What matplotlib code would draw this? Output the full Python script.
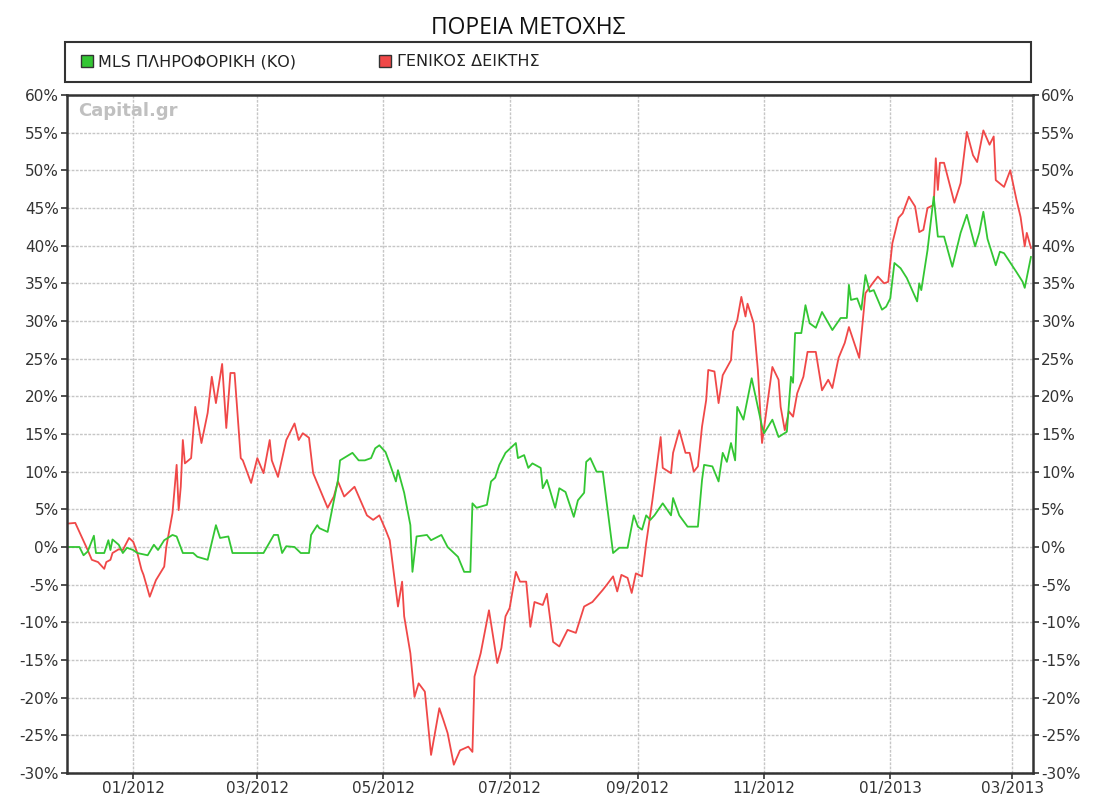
import matplotlib
matplotlib.use("Agg")
import matplotlib.pyplot as plt
import matplotlib.dates as mdates
from matplotlib.lines import Line2D
from matplotlib.patches import Rectangle
import numpy as np
import pandas as pd

# Ημέρες από 01/01/2012 και ποσοστιαία μεταβολή (%)
titlos = "ΠΟΡΕΙΑ ΜΕΤΟΧΗΣ"
onoma_metoxis = "MLS ΠΛΗΡΟΦΟΡΙΚΗ (ΚΟ)"
onoma_deikti = "ΓΕΝΙΚΟΣ ΔΕΙΚΤΗΣ"

meres_metoxi = [
    -32, -26, -24, -22, -19, -18, -14, -12, -11, -10, -7, -5, -3, 0, 2, 7, 10, 12,
    15, 19, 21, 24, 29, 31, 36, 40, 42, 46, 48, 62, 63, 68, 70, 72, 74, 78, 81, 85,
    86, 89, 90, 94, 99, 100, 103, 106, 109, 112, 115, 117, 119, 122, 124, 127, 128,
    131, 134, 135, 137, 142, 144, 149, 152, 157, 160, 163, 164, 166, 171, 173, 175,
    177, 180, 185, 186, 189, 191, 193, 197, 198, 200, 204, 206, 209, 213, 215, 218,
    219, 221, 224, 227, 232, 235, 239, 242, 244, 246, 248, 250, 252, 256, 260, 261,
    264, 268, 273, 275, 276, 280, 283, 285, 287, 289, 291, 292, 295, 299, 302, 304,
    305, 309, 312, 316, 318, 319, 320, 323, 325, 327, 330, 333, 338, 342, 345, 346,
    347, 350, 352, 354, 356, 358, 362, 364, 366, 368, 371, 374, 379, 380, 381, 384,
    387, 389, 392, 396, 400, 403, 407, 409, 411, 413, 417, 419, 421, 427, 430, 431,
    434,
]
metoxi = [
    0.0, 0.0, -1.1, -0.6, 1.5, -0.8, -0.8, 0.9, -0.4, 1.0, 0.3, -0.8, -0.1, -0.4,
    -0.8, -1.1, 0.3, -0.4, 0.9, 1.6, 1.4, -0.8, -0.8, -1.3, -1.7, 2.9, 1.2, 1.4,
    -0.8, -0.8, -0.8, 1.6, 1.6, -0.8, 0.1, 0.0, -0.8, -0.8, 1.6, 2.9, 2.5, 2.0, 8.9,
    11.5, 12.0, 12.5, 11.5, 11.5, 11.8, 13.1, 13.5, 12.6, 11.1, 8.7, 10.2, 7.2, 2.9,
    -3.3, 1.4, 1.6, 0.9, 1.6, 0.0, -1.3, -3.3, -3.3, 5.8, 5.2, 5.6, 8.7, 9.2, 10.9,
    12.5, 13.8, 11.8, 12.2, 10.5, 11.1, 10.5, 7.8, 8.9, 5.2, 7.8, 7.3, 4.0, 6.2, 7.2,
    11.3, 11.8, 10.0, 10.0, -0.8, -0.1, -0.1, 4.2, 2.7, 2.3, 4.2, 3.6, 4.2, 5.8, 4.2,
    6.5, 4.2, 2.7, 2.7, 8.9, 10.9, 10.7, 8.7, 12.5, 11.3, 13.8, 11.5, 18.6, 16.9,
    22.4, 18.6, 16.0, 15.1, 16.9, 14.6, 15.3, 22.6, 21.8, 28.4, 28.4, 32.1, 29.7,
    29.1, 31.2, 28.8, 30.4, 30.4, 34.8, 32.8, 33.0, 31.5, 36.1, 33.9, 34.1, 31.5,
    31.9, 33.0, 37.7, 37.0, 35.7, 32.6, 35.0, 34.1, 39.4, 46.5, 41.2, 41.2, 37.2,
    41.7, 44.1, 39.9, 41.7, 44.5, 40.9, 37.4, 39.2, 39.0, 36.5, 35.2, 34.4, 38.5,
]

meres_deikti = [
    -32, -28, -26, -25, -22, -20, -17, -14, -13, -11, -10, -7, -5, -2, 0, 2, 4, 5,
    8, 11, 13, 15, 16, 19, 21, 22, 23, 24, 25, 28, 30, 33, 36, 38, 40, 43, 45, 47,
    49, 52, 53, 57, 60, 63, 66, 67, 70, 74, 78, 80, 82, 85, 87, 94, 97, 99, 102,
    107, 113, 116, 119, 122, 124, 128, 130, 131, 134, 136, 138, 141, 144, 148, 150,
    152, 155, 158, 162, 164, 165, 168, 172, 176, 178, 180, 182, 185, 187, 190, 192,
    194, 198, 200, 203, 206, 210, 214, 218, 222, 227, 229, 232, 234, 236, 239, 241,
    243, 246, 248, 251, 255, 256, 260, 261, 264, 267, 269, 271, 273, 275, 277, 278,
    281, 283, 285, 289, 290, 292, 294, 296, 297, 300, 302, 304, 306, 309, 312, 313,
    315, 317, 319, 321, 324, 326, 330, 333, 336, 338, 341, 344, 346, 351, 354, 358,
    360, 363, 365, 367, 370, 372, 375, 378, 380, 382, 384, 387, 388, 389, 390, 392,
    397, 400, 403, 406, 408, 411, 414, 416, 417, 421, 424, 427, 429, 431, 432, 434,
]
deiktis = [
    3.1, 3.2, 2.0, 1.4, -0.4, -1.7, -2.0, -2.9, -2.0, -1.7, -0.8, -0.3, -0.4, 1.2,
    0.7, -0.8, -3.0, -3.7, -6.6, -4.4, -3.5, -2.6, 0.0, 4.5, 10.9, 4.9, 8.0, 14.2,
    11.1, 11.8, 18.6, 13.8, 17.8, 22.6, 19.1, 24.3, 15.8, 23.1, 23.1, 11.8, 11.5,
    8.5, 11.8, 9.8, 14.2, 11.5, 9.3, 14.2, 16.4, 14.2, 15.1, 14.5, 9.8, 5.2, 6.7,
    8.7, 6.7, 8.0, 4.2, 3.6, 4.2, 2.3, 0.9, -7.9, -4.6, -9.2, -14.1, -19.9, -18.1,
    -19.2, -27.6, -21.4, -23.0, -24.7, -28.9, -27.0, -26.5, -27.2, -17.2, -14.1,
    -8.4, -15.4, -13.4, -9.2, -8.1, -3.3, -4.6, -4.6, -10.6, -7.3, -7.7, -6.2,
    -12.6, -13.2, -11.0, -11.4, -7.9, -7.3, -5.7, -5.0, -3.9, -5.9, -3.7, -4.1,
    -6.1, -3.5, -3.9, 0.5, 6.2, 14.6, 10.5, 9.8, 12.5, 15.5, 12.5, 12.5, 10.0, 10.7,
    16.0, 19.5, 23.5, 23.3, 19.1, 22.8, 24.8, 28.6, 30.1, 33.2, 30.6, 32.3, 29.7,
    23.5, 13.8, 17.8, 23.9, 22.2, 18.6, 15.5, 18.0, 17.3, 20.4, 22.6, 25.9, 25.9,
    20.8, 22.2, 21.1, 25.1, 27.1, 29.2, 25.1, 33.7, 35.2, 35.9, 35.0, 35.2, 40.3,
    43.7, 44.3, 46.5, 45.2, 41.8, 42.1, 45.0, 45.4, 51.6, 47.4, 51.0, 51.0, 45.7,
    48.3, 55.1, 52.0, 51.1, 55.3, 53.4, 54.5, 48.7, 47.8, 50.0, 46.1, 43.8, 39.9,
    41.7, 39.7,
]

arxi = pd.Timestamp("2012-01-01")
x_metoxi = arxi + pd.to_timedelta(meres_metoxi, unit="D")
x_deikti = arxi + pd.to_timedelta(meres_deikti, unit="D")

PRASINO = "#33c633"
KOKKINO = "#f04848"
GRAMMI = "#333333"

fig = plt.figure(figsize=(10.96, 8.05), dpi=100)
ax = fig.add_axes([67 / 1096, 1 - 773 / 805, (1033 - 67) / 1096, (773 - 95) / 805])

ax.plot(x_deikti, deiktis, color=KOKKINO, linewidth=1.3)
ax.plot(x_metoxi, metoxi, color=PRASINO, linewidth=1.3)

ax.set_xlim(pd.Timestamp("2011-11-30"), pd.Timestamp("2013-03-11"))
ax.set_ylim(-30, 60)
ax.set_yticks(np.arange(-30, 61, 5))
ax.yaxis.set_major_formatter(matplotlib.ticker.FuncFormatter(lambda v, p: f"{v:.0f}%"))
ax.xaxis.set_major_locator(mdates.MonthLocator(bymonth=[1, 3, 5, 7, 9, 11]))
ax.xaxis.set_major_formatter(mdates.DateFormatter("%m/%Y"))

ax.tick_params(axis="both", direction="out", length=4, width=1.2, color=GRAMMI,
               labelsize=11, labelcolor="#333333", pad=2)
ax.tick_params(axis="y", right=True, labelright=True)
ax.grid(True, color="#c6c6c6", linestyle=(0, (2, 1)), linewidth=1.0)
for s in ax.spines.values():
    s.set_color(GRAMMI)
    s.set_linewidth(1.8)

ax.text(0.012, 0.99, "Capital.gr", transform=ax.transAxes, ha="left", va="top",
        fontsize=13, fontweight="bold", color="#c0c0c0")

fig.text(528 / 1096, 1 - 28 / 805, titlos, ha="center", va="center", fontsize=16.5,
         family="Open Sans", color="#111111")

# Πλαίσιο υπομνήματος
fig.patches.append(Rectangle((65 / 1096, 1 - 82 / 805), (1031 - 65) / 1096, 40 / 805,
                             transform=fig.transFigure, fill=False,
                             edgecolor=GRAMMI, linewidth=1.5))
handles = [
    Line2D([], [], linestyle="none", marker="s", markersize=9,
           markerfacecolor=PRASINO, markeredgecolor=GRAMMI),
    Line2D([], [], linestyle="none", marker="s", markersize=9,
           markerfacecolor=KOKKINO, markeredgecolor=GRAMMI),
]
fig.legend(handles, [onoma_metoxis, onoma_deikti], loc="center left",
           bbox_to_anchor=(66 / 1096, 1 - 62 / 805), frameon=False, ncol=2,
           handlelength=0.8, handletextpad=0.3, columnspacing=5.2,
           prop={"size": 11.5}, labelcolor="#222222")

fig.savefig("out.png", dpi=100)
